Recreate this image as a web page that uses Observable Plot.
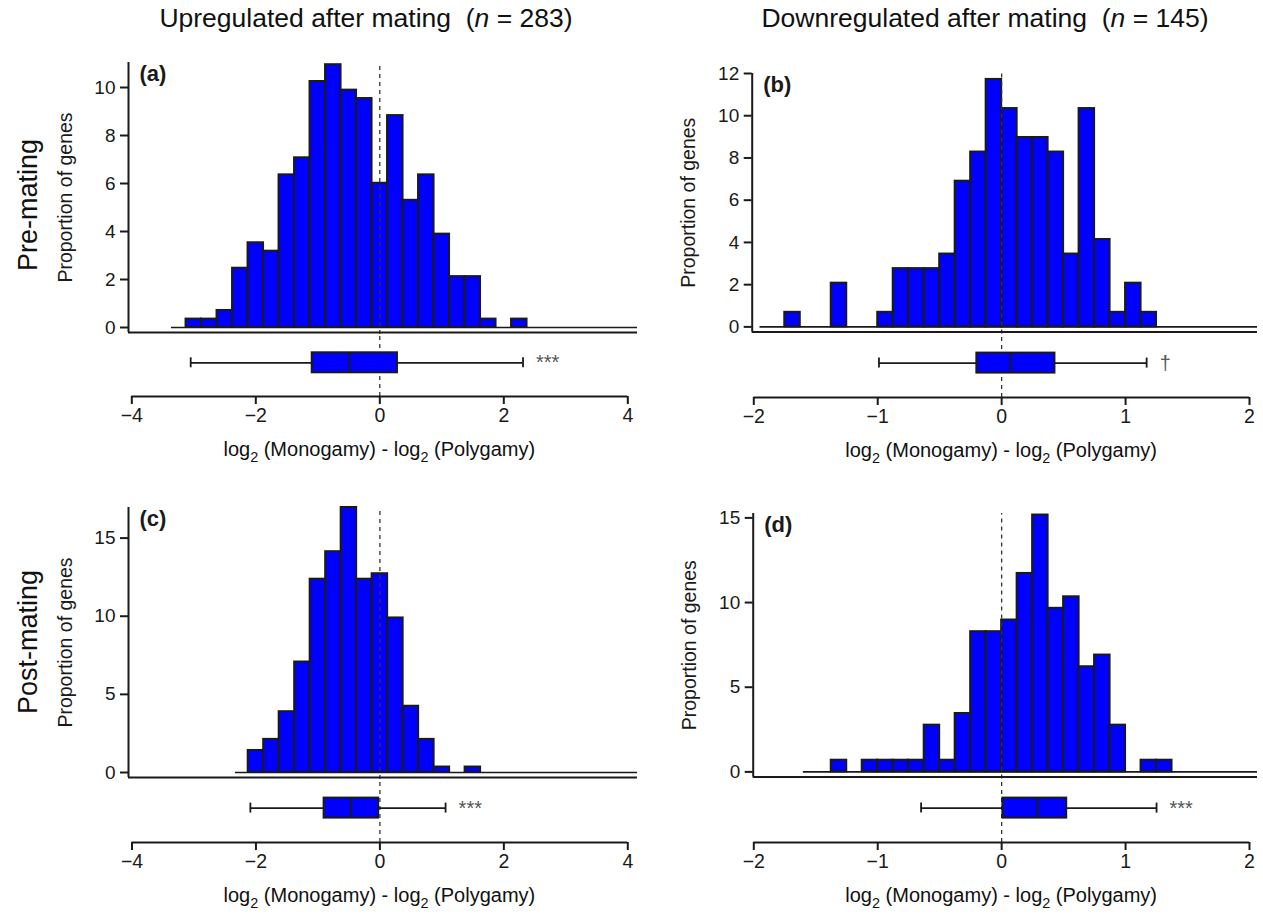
<!DOCTYPE html>
<html><head><meta charset="utf-8">
<script src="https://cdn.jsdelivr.net/npm/d3@7"></script>
<script src="https://cdn.jsdelivr.net/npm/@observablehq/plot@0.6"></script>
<style>
body{margin:0;background:#fff;font-family:"Liberation Sans",Arial,Helvetica,sans-serif;color:#111;}
#root{position:relative;width:1263px;height:915px;overflow:hidden;background:#fff;}
.abs{position:absolute;}
.title{font-size:26.5px;white-space:nowrap;transform:translate(-50%,-50%);line-height:1;}
.xlab{font-size:20px;white-space:nowrap;transform:translate(-50%,-50%);line-height:1;}
.rowlab{font-size:27px;white-space:nowrap;transform:translate(-50%,-50%) rotate(-90deg);line-height:1;}
sub{font-size:72%;vertical-align:-0.4em;line-height:0;}
</style></head><body><div id="root"></div>
<script>
// ---------------- DATA ----------------
const colTitles = ["Upregulated after mating", "Downregulated after mating"];
const colN = [283, 145];
const rowTitles = ["Pre-mating", "Post-mating"];
const panelTags = ["(a)", "(b)", "(c)", "(d)"];
const yLabel = "Proportion of genes";

// bin widths (log2 units)
const upBinWidth = 0.25;
const downBinWidth = 0.125;

// (a) upregulated, pre-mating: bin lower edges and % of genes
const aEdges = [-3.125,-2.875,-2.625,-2.375,-2.125,-1.875,-1.625,-1.375,-1.125,-0.875,-0.625,-0.375,-0.125,0.125,0.375,0.625,0.875,1.125,1.375,1.625,2.125];
const aPct   = [0.35,0.35,0.71,2.47,3.53,3.18,6.36,7.07,10.25,10.95,9.89,9.54,6.01,8.83,5.30,6.36,3.89,2.12,2.12,0.35,0.35];
// (b) downregulated, pre-mating
const bEdges = [-1.75,-1.375,-1.0,-0.875,-0.75,-0.625,-0.5,-0.375,-0.25,-0.125,0,0.125,0.25,0.375,0.5,0.625,0.75,0.875,1.0,1.125];
const bPct   = [0.69,2.07,0.69,2.76,2.76,2.76,3.45,6.90,8.28,11.72,10.34,8.97,8.97,8.28,3.45,10.34,4.14,0.69,2.07,0.69];
// (c) upregulated, post-mating
const cEdges = [-2.125,-1.875,-1.625,-1.375,-1.125,-0.875,-0.625,-0.375,-0.125,0.125,0.375,0.625,0.875,1.375];
const cPct   = [1.41,2.12,3.89,7.07,12.37,14.13,16.96,12.37,12.72,9.89,4.24,2.12,0.35,0.35];
// (d) downregulated, post-mating
const dEdges = [-1.375,-1.125,-1.0,-0.875,-0.75,-0.625,-0.5,-0.375,-0.25,-0.125,0,0.125,0.25,0.375,0.5,0.625,0.75,0.875,1.125,1.25];
const dPct   = [0.69,0.69,0.69,0.69,0.69,2.76,0.69,3.45,8.28,8.28,8.97,11.72,15.17,9.66,10.34,6.21,6.90,2.76,0.69,0.69];

// boxplot summaries: [lower whisker, Q1, median, Q3, upper whisker]
const aBox = [-3.05, -1.09, -0.49, 0.285, 2.31];
const bBox = [-0.99, -0.20, 0.07, 0.43, 1.17];
const cBox = [-2.09, -0.90, -0.47, -0.02, 1.06];
const dBox = [-0.65, 0.01, 0.29, 0.525, 1.25];
const sigLabels = ["***", "\u2020", "***", "***"];

// histogram baseline start (log2 units)
const baseStarts = [-3.36, -1.95, -2.33, -1.6];

// axis ticks
const upXTicks = [-4, -2, 0, 2, 4];
const downXTicks = [-2, -1, 0, 1, 2];
const aYTicks = [0, 2, 4, 6, 8, 10];
const bYTicks = [0, 2, 4, 6, 8, 10, 12];
const cYTicks = [0, 5, 10, 15];
const dYTicks = [0, 5, 10, 15];

// ---------------- LAYOUT ----------------
const FONT = '"Liberation Sans", Arial, Helvetica, sans-serif';
const BLUE = "#0000ff";
const INK = "#1a1a1a";
const fmt = d3.format("~f");
const root = document.getElementById("root");

const panels = [
  {tag: panelTags[0], edges: aEdges, pct: aPct, binW: upBinWidth, box: aBox, sig: sigLabels[0], base: baseStarts[0],
   xTicks: upXTicks, yTicks: aYTicks, svgLeft: 0, xPx: [131.3, 627.3],
   frameL: 128, frameR: 637, frameT: 61.7, frameB: 331.7, y0: 326.7, yRef: 10, yRefPx: 86.7,
   boxCy: 362, axisLine: 395.7},
  {tag: panelTags[1], edges: bEdges, pct: bPct, binW: downBinWidth, box: bBox, sig: sigLabels[1], base: baseStarts[1],
   xTicks: downXTicks, yTicks: bYTicks, svgLeft: 640, xPx: [753.3, 1249],
   frameL: 751.7, frameR: 1257, frameT: 73.3, frameB: 331.7, y0: 326.7, yRef: 12, yRefPx: 73.3,
   boxCy: 362.3, axisLine: 396.7},
  {tag: panelTags[2], edges: cEdges, pct: cPct, binW: upBinWidth, box: cBox, sig: sigLabels[2], base: baseStarts[2],
   xTicks: upXTicks, yTicks: cYTicks, svgLeft: 0, xPx: [131.5, 627.3],
   frameL: 128, frameR: 637, frameT: 506.7, frameB: 776.7, y0: 771.7, yRef: 15, yRefPx: 537.3,
   boxCy: 807.3, axisLine: 841.7},
  {tag: panelTags[3], edges: dEdges, pct: dPct, binW: downBinWidth, box: dBox, sig: sigLabels[3], base: baseStarts[3],
   xTicks: downXTicks, yTicks: dYTicks, svgLeft: 640, xPx: [753.3, 1249],
   frameL: 752.7, frameR: 1257, frameT: 513.3, frameB: 776.7, y0: 771.7, yRef: 15, yRefPx: 517.7,
   boxCy: 807.3, axisLine: 841.7}
];

function place(node, left, top) {
  const d = document.createElement("div");
  d.className = "abs";
  d.style.left = left + "px";
  d.style.top = top + "px";
  d.appendChild(node);
  root.appendChild(d);
}

function drawPanel(p) {
  // ---- histogram ----
  const hTop = p.frameT - 16, hBottom = p.frameB + 2;
  const H = hBottom - hTop;
  const W = p.frameR + 4 - p.svgLeft;
  const xs = d3.scaleLinear().domain([p.xTicks[0], p.xTicks[p.xTicks.length - 1]])
                             .range([p.xPx[0] - p.svgLeft, p.xPx[1] - p.svgLeft]);
  const ys = d3.scaleLinear().domain([0, p.yRef]).range([p.y0 - hTop, p.yRefPx - hTop]);
  const xL = xs.invert(p.frameL - p.svgLeft), xR = xs.invert(p.frameR - p.svgLeft);
  const yB = ys.invert(p.frameB - hTop), yT = ys.invert(p.frameT - hTop), yBot = ys.invert(H);
  const bins = p.edges.map((e, i) => ({x1: e, x2: e + p.binW, pct: p.pct[i]}));

  const hist = Plot.plot({
    width: W, height: H,
    marginLeft: p.frameL - p.svgLeft, marginRight: W - (p.frameR - p.svgLeft),
    marginTop: p.frameT - hTop, marginBottom: hBottom - p.frameB,
    style: {fontFamily: FONT, background: "transparent", color: INK, overflow: "visible"},
    x: {domain: xs.domain(), range: xs.range(), axis: null},
    y: {domain: ys.domain(), range: ys.range()},
    marks: [
      Plot.ruleY([0], {x1: p.base, x2: xR, stroke: INK, strokeWidth: 1.6}),
      Plot.rectY(bins, {x1: "x1", x2: "x2", y: "pct", fill: BLUE, stroke: INK, strokeWidth: 2}),
      Plot.ruleX([0], {y1: yBot, y2: yT, stroke: "#333", strokeWidth: 1.3, strokeDasharray: "4,4"}),
      Plot.ruleX([xL], {y1: yB, y2: yT, stroke: INK, strokeWidth: 2}),
      Plot.ruleY([yB], {x1: xL, x2: xR, stroke: INK, strokeWidth: 2}),
      Plot.axisY(p.yTicks, {tickSize: 8, tickPadding: 5, fontSize: 19, strokeWidth: 2, stroke: INK, fill: INK, label: null, tickFormat: fmt}),
      Plot.text([p.tag], {frameAnchor: "top-left", dx: 11, dy: 3, fontWeight: "bold", fontSize: 22, fill: INK}),
      Plot.text([yLabel], {frameAnchor: "left", dx: -63, rotate: -90, textAnchor: "middle", fontSize: 19.5, fill: INK})
    ]
  });
  place(hist, p.svgLeft, hTop);

  // ---- boxplot + x axis ----
  const bTop = hBottom, bBottom = p.axisLine + 44;
  const BH = bBottom - bTop;
  const by = d3.scaleLinear().domain([0, 1]).range([p.axisLine - bTop, 0]);
  const cy = by.invert(p.boxCy - bTop);
  const boxT = by.invert(p.boxCy - 10 - bTop), boxB = by.invert(p.boxCy + 10 - bTop);
  const capT = by.invert(p.boxCy - 5 - bTop), capB = by.invert(p.boxCy + 5 - bTop);
  const s = {lo: p.box[0], q1: p.box[1], med: p.box[2], q3: p.box[3], hi: p.box[4], sig: p.sig};

  const boxPlot = Plot.plot({
    width: W, height: BH,
    marginLeft: p.frameL - p.svgLeft, marginRight: W - (p.frameR - p.svgLeft),
    marginTop: 0, marginBottom: bBottom - p.axisLine,
    style: {fontFamily: FONT, background: "transparent", color: INK, overflow: "visible"},
    x: {domain: xs.domain(), range: xs.range()},
    y: {domain: by.domain(), range: by.range(), axis: null},
    marks: [
      Plot.ruleX([0], {y1: 0, y2: 1, stroke: "#333", strokeWidth: 1.3, strokeDasharray: "4,4"}),
      Plot.ruleY([s], {x1: "lo", x2: "q1", y: () => cy, stroke: INK, strokeWidth: 1.8}),
      Plot.ruleY([s], {x1: "q3", x2: "hi", y: () => cy, stroke: INK, strokeWidth: 1.8}),
      Plot.ruleX([s.lo, s.hi], {y1: capB, y2: capT, stroke: INK, strokeWidth: 1.8}),
      Plot.rect([s], {x1: "q1", x2: "q3", y1: () => boxB, y2: () => boxT, fill: BLUE, stroke: INK, strokeWidth: 2}),
      Plot.ruleX([s], {x: "med", y1: boxB, y2: boxT, stroke: INK, strokeWidth: 2}),
      Plot.text([s], {x: "hi", y: () => cy, text: "sig", dx: 13, textAnchor: "start", fontSize: 20, fill: "#555"}),
      Plot.ruleY([0], {x1: p.xTicks[0], x2: p.xTicks[p.xTicks.length - 1], stroke: INK, strokeWidth: 2}),
      Plot.axisX(p.xTicks, {tickSize: 8, tickPadding: 4, fontSize: 19.5, strokeWidth: 2, stroke: INK, fill: INK, label: null, tickFormat: fmt})
    ]
  });
  place(boxPlot, p.svgLeft, bTop);

  // x label (with subscripts)
  const xl = document.createElement("div");
  xl.className = "abs xlab";
  xl.innerHTML = "log<sub>2</sub> (Monogamy) - log<sub>2</sub> (Polygamy)";
  xl.style.left = (xs(0) + p.svgLeft) + "px";
  xl.style.top = (p.axisLine + 53) + "px";
  root.appendChild(xl);
}

panels.forEach(drawPanel);

// column titles
const titlePos = [[366, 18], [985, 18]];
colTitles.forEach((t, i) => {
  const d = document.createElement("div");
  d.className = "abs title";
  d.innerHTML = t + "&nbsp;&nbsp;(<i>n</i> = " + colN[i] + ")";
  d.style.left = titlePos[i][0] + "px";
  d.style.top = titlePos[i][1] + "px";
  root.appendChild(d);
});

// row titles
const rowPos = [[28, 205], [28, 642]];
rowTitles.forEach((t, i) => {
  const d = document.createElement("div");
  d.className = "abs rowlab";
  d.textContent = t;
  d.style.left = rowPos[i][0] + "px";
  d.style.top = rowPos[i][1] + "px";
  root.appendChild(d);
});
</script>
</body></html>
